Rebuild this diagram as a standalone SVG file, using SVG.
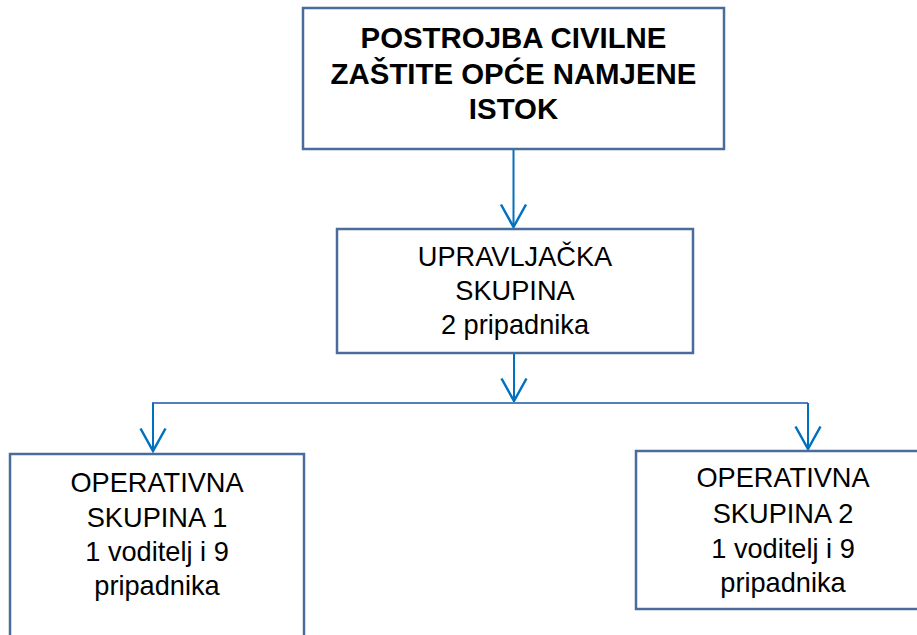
<svg xmlns="http://www.w3.org/2000/svg" width="917" height="635" viewBox="0 0 917 635">
  <style>
    .box { fill: #ffffff; stroke: #4a6c9b; stroke-width: 2.5; }
    .t { font-family: "Liberation Sans", Arial, sans-serif; font-size: 27.2px; fill: #000000; text-anchor: middle; }
    .tb { font-family: "Liberation Sans", Arial, sans-serif; font-size: 29.4px; font-weight: bold; fill: #000000; text-anchor: middle; }
    .arr { fill: none; stroke: #0070c0; stroke-width: 2; marker-end: url(#vhead); }
    .bus { fill: none; stroke: #4f81bd; stroke-width: 2; }
  </style>
  <defs>
    <marker id="vhead" markerUnits="userSpaceOnUse" markerWidth="30" markerHeight="30" refX="0" refY="0" orient="auto" overflow="visible" viewBox="-20 -12 22 24">
      <path d="M -18 -10 L 0 0 L -18 10" fill="none" stroke="#0070c0" stroke-width="2"/>
    </marker>
  </defs>
  <rect width="917" height="635" fill="#ffffff"/>

  <g id="connectors">
    <line class="arr" x1="513.5" y1="149" x2="513.5" y2="227"/>
    <line class="arr" x1="514" y1="353" x2="514" y2="401"/>
    <line class="bus" x1="152" y1="403" x2="808" y2="403"/>
    <line class="arr" x1="153" y1="403" x2="153" y2="451"/>
    <line class="arr" x1="808" y1="403" x2="808" y2="449"/>
  </g>

  <g id="node-postrojba">
    <rect class="box" x="303" y="8" width="421" height="141"/>
    <text class="tb" x="513.5" y="48">POSTROJBA CIVILNE</text>
    <text class="tb" x="513.5" y="83.5">ZAŠTITE OPĆE NAMJENE</text>
    <text class="tb" x="513.5" y="119">ISTOK</text>
  </g>

  <g id="node-upravljacka">
    <rect class="box" x="337" y="229" width="356" height="124"/>
    <text class="t" x="515" y="266">UPRAVLJAČKA</text>
    <text class="t" x="515" y="300">SKUPINA</text>
    <text class="t" x="515" y="334">2 pripadnika</text>
  </g>

  <g id="node-operativna-1">
    <rect class="box" x="10" y="454" width="294" height="200"/>
    <text class="t" x="157" y="492">OPERATIVNA</text>
    <text class="t" x="157" y="527">SKUPINA 1</text>
    <text class="t" x="157" y="561">1 voditelj i 9</text>
    <text class="t" x="157" y="595">pripadnika</text>
  </g>

  <g id="node-operativna-2">
    <rect class="box" x="636" y="451" width="300" height="158"/>
    <text class="t" x="783" y="487">OPERATIVNA</text>
    <text class="t" x="783" y="522.5">SKUPINA 2</text>
    <text class="t" x="783" y="557.5">1 voditelj i 9</text>
    <text class="t" x="783" y="592">pripadnika</text>
  </g>
</svg>
